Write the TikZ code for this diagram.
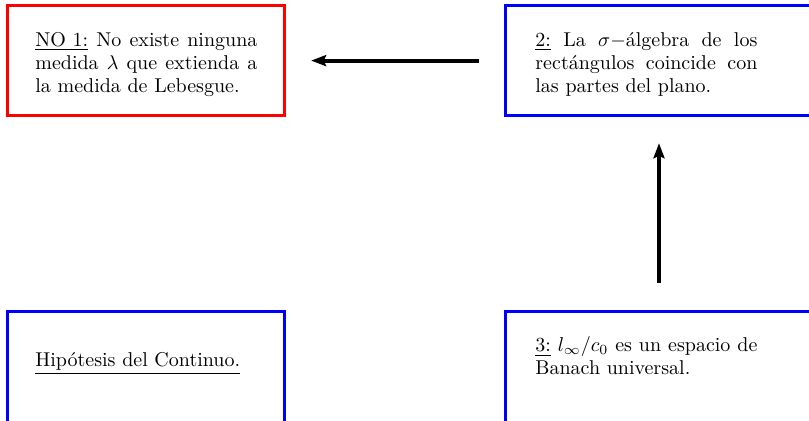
\documentclass[tikz,border=0pt]{standalone}
\usetikzlibrary{arrows.meta}
\begin{document}
\begin{tikzpicture}[x=0.5pt,y=-0.5pt,
  boxleft/.style={draw, line width=1.7pt, outer sep=0pt, minimum width=138.5pt, minimum height=55pt, inner sep=0pt},
  boxright/.style={draw=blue, line width=1.7pt, outer sep=0pt, minimum width=153.3pt, minimum height=55pt, inner sep=0pt},
  tall/.style={minimum height=58pt},
  txt/.style={anchor=base west, inner sep=0pt, text width=111pt, align=justify,
    font=\fontsize{10}{11.5}\selectfont},
  implies/.style={line width=2pt, -{Stealth[length=7.5pt,width=5.5pt,inset=1.2pt]}}]
  \clip (0,0) rectangle (809,420);

  % statement boxes
  \node[boxleft, draw=red] (no1) at (145.8,60.6) {};
  \node[boxright] (two) at (659,60.6) {};
  \node[boxleft, draw=blue, tall] (ch) at (145.8,369.7) {};
  \node[boxright, tall] (three) at (659,369.7) {};

  % statements
  \node[txt] (no1t) at (35,46.2) {\underline{NO 1:} No existe ninguna medida $\lambda$ que extienda a la medida de Lebesgue.};
  \node[txt] (twot) at (535,46.8) {\underline{2:} La $\sigma-$álgebra de los rectángulos coincide con las partes del plano.};
  \node[txt] (cht) at (35,366.7) {\underline{Hipótesis del Continuo.}};
  \node[txt] (threet) at (535,351.7) {\underline{3:} $l_\infty/c_0$ es un espacio de Banach universal.};

  % implications
  \draw[implies, shorten <=13.4pt, shorten >=13.4pt] (two.west) -- (no1.east);
  \draw[implies, shorten <=14.3pt, shorten >=13.8pt] (three.north) -- (two.south);
\end{tikzpicture}
\end{document}
